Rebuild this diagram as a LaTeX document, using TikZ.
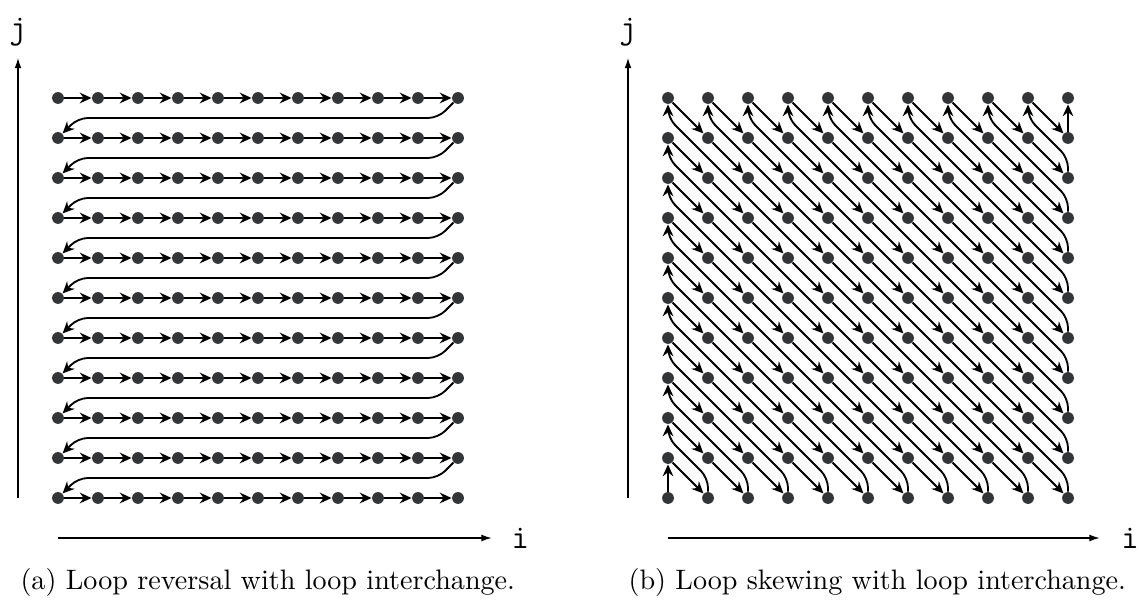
\documentclass[tikz,border=0pt]{standalone}
\usetikzlibrary{arrows.meta}
\definecolor{dotgray}{RGB}{50,54,57}
\begin{document}
\begin{tikzpicture}
  [every node/.style={inner sep=0pt},
   dot/.style={circle,fill=dotgray,minimum size=4.2pt},
   flow/.style={-{Stealth[length=4.2pt,width=3.8pt,inset=1.4pt]},line width=0.65pt,rounded corners=3.5pt},
   axis/.style={-{Latex[length=3.6pt,width=2.4pt]},line width=0.4pt},
   lbl/.style={font=\large\ttfamily}]
\useasboundingbox (-0.725,-1.375) rectangle (13.5125,6.225);

  % (a) reversal + interchange
  \foreach \i in {0,...,10}
    \foreach \j in {0,...,10}
      \node[dot] (a-\i-\j) at (0.5*\i,0.5*\j) {};
  \foreach \j in {0,...,10}
    \foreach \i in {0,...,9}{
      \pgfmathtruncatemacro\inext{\i+1}
      \draw[flow] (a-\i-\j) -- (a-\inext-\j);
    }
  \foreach \j in {1,...,10}{
    \pgfmathtruncatemacro\jprev{\j-1}
    \draw[flow] (a-10-\j) -- ++(-0.25,-0.25)
      -- ([shift={(0.25,0.25)}]a-0-\jprev.center) -- (a-0-\jprev);
  }

  \coordinate (aj0) at (-0.5,0);
  \coordinate (aj1) at (-0.5,5.5);
  \coordinate (ai0) at (0,-0.5);
  \coordinate (ai1) at (5.42,-0.5);
  \draw[axis] (aj0) -- (aj1);
  \draw[axis] (ai0) -- (ai1);
  \node[lbl] (ajl) at (-0.5,5.82) {j};
  \node[lbl] (ail) at (5.78,-0.5) {i};
  \node[anchor=west] (capa) at (-0.475,-1.06) {(a) Loop reversal with loop interchange.};

  % (b) skewing + interchange
  \foreach \i in {0,...,10}
    \foreach \j in {0,...,10}
      \node[dot] (b-\i-\j) at (7.625+0.5*\i,0.5*\j) {};
  \foreach \i in {0,...,9}
    \foreach \j in {1,...,10}{
      \pgfmathtruncatemacro\inext{\i+1}
      \pgfmathtruncatemacro\jprev{\j-1}
      \draw[flow] (b-\i-\j) -- (b-\inext-\jprev);
    }
  \foreach \d in {0,...,19}{
    \pgfmathtruncatemacro\ei{min(\d,10)}
    \pgfmathtruncatemacro\ej{max(\d-10,0)}
    \pgfmathtruncatemacro\si{max(\d-9,0)}
    \pgfmathtruncatemacro\sj{min(\d+1,10)}
    \draw[flow] (b-\ei-\ej) -- ++(0,0.25)
      -- ([shift={(0,-0.25)}]b-\si-\sj.center) -- (b-\si-\sj);
  }

  \coordinate (bj0) at (7.125,0);
  \coordinate (bj1) at (7.125,5.5);
  \coordinate (bi0) at (7.625,-0.5);
  \coordinate (bi1) at (13.02,-0.5);
  \draw[axis] (bj0) -- (bj1);
  \draw[axis] (bi0) -- (bi1);
  \node[lbl] (bjl) at (7.125,5.82) {j};
  \node[lbl] (bil) at (13.4,-0.5) {i};
  \node[anchor=west] (capb) at (7.125,-1.06) {(b) Loop skewing with loop interchange.};
\end{tikzpicture}
\end{document}
